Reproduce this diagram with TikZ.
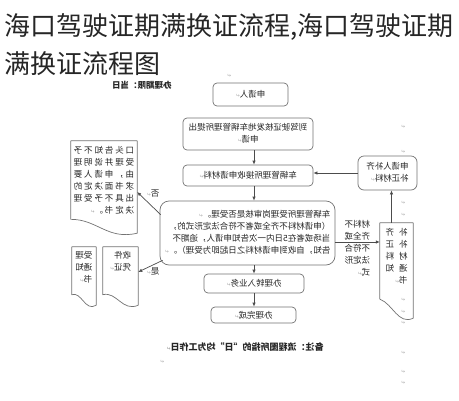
\documentclass[tikz,border=0pt]{standalone}
\usepackage{fontspec}
\usepackage{graphicx}
\setmainfont{Noto Sans CJK SC}
\newfontfamily\sym{DejaVu Sans}
\usetikzlibrary{arrows.meta,calc}
\newcommand\mir[1]{\scalebox{-1}[1]{#1}}
\newcommand\rowsl[1]{\mir{\begin{tabular}{@{}l@{}}#1\end{tabular}}}
\newcommand\rowsc[1]{\mir{\begin{tabular}{@{}c@{}}#1\end{tabular}}}
\newcommand\pmk{{\sym\color{black!35}\fontsize{5}{5}\selectfont ↵}}
\newcommand\docshape[2]{\draw[docline] (#1.north west) -- (#1.north east) -- (#1.south east)
  .. controls ($(#1.south east)!0.45!(#1.south west)+(0,7)$) and ($(#1.south west)!0.4!(#1.south east)+(0,-14)$)
  .. ($(#1.south west)!#2!(#1.north west)$) -- cycle;}
\begin{document}
\begin{tikzpicture}[x=1pt,y=-1pt,
  box/.style={draw=black!55, line width=0.7pt, rounded corners=4pt, inner sep=0pt, fill=white,
    text=black!85, font=\fontsize{8.5}{12}\selectfont},
  txt/.style={inner sep=0pt, text=black!85, font=\fontsize{8.5}{12}\selectfont},
  frame/.style={inner sep=0pt, draw=none},
  docline/.style={draw=black!55, line width=0.7pt, line join=round},
  conn/.style={draw=black!70, line width=0.7pt, -{Latex[length=4pt,width=3.5pt]}},
  pm/.style={inner sep=0pt, text=black!35, font=\sym\fontsize{5}{5}\selectfont}
]
\useasboundingbox (0,0) rectangle (459,400);
\fill[white] (0,0) rectangle (459,400);

% title
\node[anchor=west, inner sep=0pt, font=\fontsize{26}{30}\selectfont, text=black!85] (t1) at (4,27) {海口驾驶证期满换证流程,海口驾驶证期};
\node[anchor=west, inner sep=0pt, font=\fontsize{26}{30}\selectfont, text=black!85] (t2) at (4,64) {满换证流程图};

% header label
\node[txt, font=\bfseries\fontsize{8.5}{12}\selectfont] (lim) at (142,85) {\mir{办理期限：当日}};

% main column
\node[box, minimum width=75pt, minimum height=23pt] (b1) at (250.5,94.5) {\mir{申请人\pmk}};
\node[box, minimum width=130pt, minimum height=32pt] (b2) at (248,134) {\rowsc{到驾驶证核发地车辆管理所提出\\申请\pmk}};
\node[box, minimum width=130pt, minimum height=21pt] (b3) at (248,175.5) {\mir{车辆管理所接收申请材料\pmk}};
\node[box, rounded corners=9pt, minimum width=175pt, minimum height=64pt] (b4) at (247.5,233) {\rowsl{车辆管理所受理岗审核是否受理。\pmk\\（申请材料不齐全或者不符合法定形式的，\\当场或者在5日内一次告知申请人，逾期不\\告知，自收到申请材料之日起即为受理）。\pmk}};
\node[box, minimum width=100pt, minimum height=19pt] (b5) at (254,283.5) {\mir{办理转入业务\pmk}};
\node[box, minimum width=85pt, minimum height=16pt] (b6) at (253.5,315) {\mir{办理完成\pmk}};

% right side
\node[box, rounded corners=6pt, minimum width=59pt, minimum height=34pt] (b7) at (387.5,173) {\rowsl{申请人补齐\\补正材料\pmk}};
\node[frame, minimum width=33pt, minimum height=95pt] (d2) at (396.5,270.5) {};
\docshape{d2}{0.2}
\node[txt, anchor=north] (d2t) at ($(d2.north)+(0,4)$) {\rowsl{补\hspace{5pt}齐\\补\hspace{5pt}正\\材\hspace{5pt}料\\通\hspace{5pt}知\\书\pmk}};
\node[txt] (l1) at (357.5,249) {\rowsl{材料不\\齐全或\\不符合\\法定形\\式\pmk}};

% left side
\node[frame, minimum width=66pt, minimum height=92pt] (d1) at (104,187) {};
\docshape{d1}{0.15}
\node[txt, anchor=north] (d1t) at ($(d1.north)+(0,4)$) {\addfontfeature{LetterSpace=22}\rowsl{口头告知不予\\受理并说明理\\由，申请人要\\求书面决定的\\出具不予受理\\决定书。\pmk}};
\node[frame, minimum width=24pt, minimum height=58pt] (d3) at (84,276) {};
\docshape{d3}{0.18}
\node[txt, anchor=north] (d3t) at ($(d3.north)+(0,3)$) {\rowsl{受理\\通知\\书\pmk}};
\node[frame, minimum width=35pt, minimum height=58pt] (d4) at (120.5,276) {};
\docshape{d4}{0.18}
\node[txt, anchor=north] (d4t) at ($(d4.north)+(0,3)$) {\rowsl{收件\\凭证\pmk}};
\node[txt] (no) at (153,194) {\mir{否\pmk}};
\node[txt] (yes) at (153,271) {\mir{是\pmk}};

% connectors
\draw[conn] (b2.south -| b5.north) -- (b3.north -| b5.north);
\draw[conn] (b3.south -| b5.north) -- (b4.north -| b5.north);
\draw[conn] (b4.south -| b5.north) -- (b5.north);
\draw[conn] (b5.south) -- (b6.north -| b5.south);
\draw[conn] ($(b4.north west)+(1,14)$) -- ($(d1.east)+(0,5)$);
\draw[conn] ($(b4.south west)+(3,-5)$) -- ($(d4.east)+(0,-4)$);
\coordinate (r1) at ($(b4.east)+(0,9)$);
\draw[conn] (r1) -- (r1 -| d2.west);
\coordinate (u1) at ($(d2.north)+(-5,0)$);
\draw[conn] (u1) -- (u1 |- b7.south);
\draw[conn] (b7.west) -- (b7.west -| b3.east);

% note
\node[txt, font=\bfseries\fontsize{9}{12}\selectfont] (note) at (245,347) {\mir{备注：流程图所指的“日”均为工作日\pmk}};

% stray paragraph marks
\node[pm] (m1) at (229,76) {\mir{↵}};
\node[pm] (m2) at (233,126) {\mir{↵}};
\node[pm] (m3) at (403,127) {\mir{↵}};
\node[pm] (m4) at (403,152) {\mir{↵}};
\node[pm] (m5) at (403,203) {\mir{↵}};
\node[pm] (m6) at (403,215) {\mir{↵}};
\node[pm] (m7) at (403,300) {\mir{↵}};
\node[pm] (m8) at (403,312) {\mir{↵}};
\node[pm] (m9) at (403,323) {\mir{↵}};
\node[pm] (m10) at (403,353) {\mir{↵}};
\node[pm] (m11) at (403,372) {\mir{↵}};
\node[pm] (m12) at (403,383) {\mir{↵}};
\node[pm] (m13) at (162,362) {\mir{↵}};
\end{tikzpicture}
\end{document}
